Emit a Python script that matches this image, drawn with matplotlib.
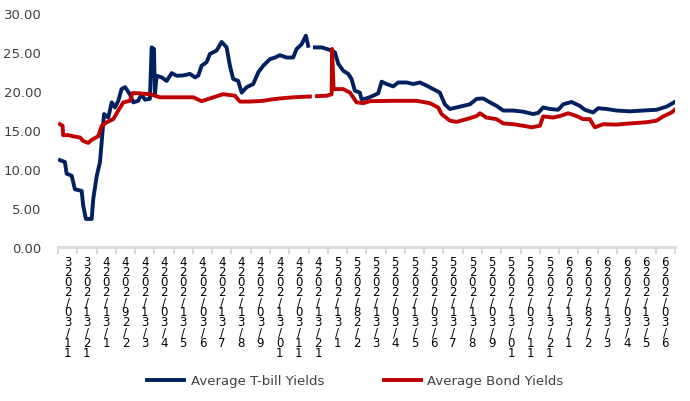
import numpy as np
import matplotlib
matplotlib.use("Agg")
import matplotlib.pyplot as plt

# month-end labels shown on the axis (one per month)
dates = ['11/30/2023', '12/31/2023', '1/31/2024', '2/29/2024', '3/31/2024', '4/30/2024',
         '5/31/2024', '6/30/2024', '7/31/2024', '8/31/2024', '9/30/2024', '10/31/2024',
         '11/30/2024', '12/31/2024', '1/31/2025', '2/28/2025', '3/31/2025', '4/30/2025',
         '5/31/2025', '6/30/2025', '7/31/2025', '8/31/2025', '9/30/2025', '10/31/2025',
         '11/30/2025', '12/31/2025', '1/31/2026', '2/28/2026', '3/31/2026', '4/30/2026',
         '5/31/2026', '6/30/2026']

# position in months from the first label, and the yield (%)
tbill_t = [0.10, 0.36, 0.45, 0.71, 0.88, 1.23, 1.31, 1.45, 1.75, 1.83, 2.01, 2.18, 2.39, 2.61,
           2.79, 2.96, 3.13, 3.30, 3.48, 3.73, 3.91, 4.16, 4.34, 4.51, 4.77, 4.86, 4.98, 5.03,
           5.12, 5.38, 5.64, 5.90, 6.16, 6.50, 6.85, 7.11, 7.28, 7.45, 7.71, 7.88, 8.23, 8.49,
           8.75, 8.92, 9.09, 9.35, 9.53, 9.79, 10.13, 10.39, 10.65, 11.00, 11.26, 11.51, 11.86,
           12.20, 12.38, 12.64, 12.86, 12.98, 13.15, 13.33, 13.68, 13.94, 14.20, 14.37, 14.54,
           14.80, 15.06, 15.23, 15.40, 15.66, 15.75, 16.01, 16.35, 16.61, 16.79, 17.05, 17.39,
           17.65, 18.09, 18.43, 18.78, 19.12, 19.47, 19.81, 20.07, 20.33, 20.68, 21.02, 21.37,
           21.72, 22.06, 22.41, 22.75, 23.10, 23.62, 24.14, 24.65, 24.91, 25.17, 25.52, 25.95,
           26.21, 26.64, 27.07, 27.33, 27.76, 28.02, 28.46, 28.98, 29.67, 30.36, 31.05, 31.57,
           32.00]
tbill = [11.15, 10.9, 9.4, 9.15, 7.4, 7.2, 5.3, 3.6, 3.6, 6.15, 9.1, 10.9, 17.05, 16.6,
         18.55, 17.9, 18.75, 20.25, 20.5, 19.6, 18.55, 18.75, 19.6, 18.9, 19.0, 25.6, 25.4, 19.6,
         21.96, 21.75, 21.3, 22.3, 21.96, 22.0, 22.2, 21.75, 22.0, 23.25, 23.7, 24.75, 25.2, 26.3,
         25.6, 23.25, 21.55, 21.3, 19.8, 20.5, 20.9, 22.4, 23.25, 24.1, 24.3, 24.6, 24.3,
         24.3, 25.4, 26.0, 27.1, 25.8, np.nan, 25.6, 25.6, 25.4, 25.2, 24.95, 23.5,
         22.6, 22.2, 21.55, 20.05, 19.8, 18.97, 19.05, 19.4, 19.7, 21.2, 20.9, 20.6,
         21.1, 21.1, 20.9, 21.1, 20.7, 20.25, 19.8, 18.3, 17.7, 17.9, 18.1, 18.3,
         19.0, 19.05, 18.55, 18.1, 17.5, 17.5, 17.35, 17.05, 17.2, 17.9, 17.7, 17.6,
         18.3, 18.6, 18.1, 17.6, 17.25, 17.8, 17.7, 17.5, 17.4, 17.5, 17.6, 18.0,
         18.6]

bond_t = [0.10, 0.24, 0.27, 0.53, 0.79, 1.14, 1.31, 1.57, 1.75, 2.09, 2.27, 2.53, 2.87, 3.13,
          3.39, 3.73, 3.87, 4.25, 4.77, 5.29, 5.81, 6.50, 7.02, 7.45, 7.88, 8.57, 9.18, 9.44,
          9.96, 10.65, 11.00, 11.51, 12.20, 13.07, 13.20, 13.43, 13.94, 14.20, 14.22, 14.30,
          14.37, 14.80, 15.15, 15.49, 15.84, 16.18, 17.39, 18.60, 19.29, 19.72, 19.90, 20.33,
          20.68, 21.20, 21.72, 21.89, 22.23, 22.75, 23.10, 23.62, 24.14, 24.57, 25.00, 25.17,
          25.68, 26.04, 26.47, 26.90, 27.24, 27.59, 27.85, 28.28, 28.98, 29.67, 30.53, 31.05,
          31.40, 31.83, 32.05]
bond = [15.75, 15.55, 14.35, 14.35, 14.2, 14.05, 13.6, 13.35, 13.75, 14.2, 15.55, 16.0, 16.4, 17.5,
        18.55, 18.75, 19.75, 19.7, 19.6, 19.2, 19.2, 19.2, 19.2, 18.7, 19.05, 19.6, 19.4, 18.65,
        18.65, 18.75, 18.9, 19.05, 19.2, 19.3, np.nan, 19.35, 19.4, 19.6, 25.4, 20.25,
        20.25, 20.25, 19.8, 18.55, 18.45, 18.7, 18.75, 18.75, 18.45, 17.9, 17.05, 16.2,
        16.05, 16.4, 16.8, 17.15, 16.6, 16.4, 15.85, 15.75, 15.55, 15.35, 15.55, 16.75,
        16.6, 16.8, 17.15, 16.8, 16.4, 16.4, 15.35, 15.75, 15.7, 15.85, 16.0, 16.2,
        16.75, 17.25, 17.7]

navy = '#002060'
red = '#C00000'
txt = '#404040'

fig = plt.figure(figsize=(6.9, 4.02), dpi=100)
ax = fig.add_axes([0.084, 0.383, 0.894, 0.582])

ax.plot(tbill_t, tbill, color=navy, lw=2.8, label='Average T-bill Yields')
ax.plot(bond_t, bond, color=red, lw=2.8, label='Average Bond Yields')

ax.set_xlim(0, len(dates))
ax.set_ylim(0, 30)
ax.set_yticks(np.arange(0, 31, 5))
ax.set_yticklabels(['%.2f' % v for v in np.arange(0, 31, 5)], fontsize=9.5, color=txt)

for s in ['top', 'right', 'left']:
    ax.spines[s].set_visible(False)
ax.spines['bottom'].set_color('#D9D9D9')
ax.spines['bottom'].set_linewidth(2)
ax.tick_params(axis='y', length=0, pad=12)

# ticks between categories, stacked labels centred in each slot
ax.set_xticks(np.arange(0, len(dates) + 1))
ax.set_xticklabels([])
ax.tick_params(axis='x', length=5, width=1.5, color='#D9D9D9')
for i, d in enumerate(dates):
    stacked = '\n'.join(d[::-1])
    ax.text(i + 0.5, -1.0, stacked, ha='center', va='top', fontsize=8.5,
            color='black', linespacing=0.71)

fig.legend(loc='center', bbox_to_anchor=(0.515, 0.05), ncol=2, frameon=False,
           fontsize=9.5, handlelength=2.8, columnspacing=4.5, handletextpad=0.5,
           labelcolor=txt)

fig.savefig('out.png', dpi=100)
